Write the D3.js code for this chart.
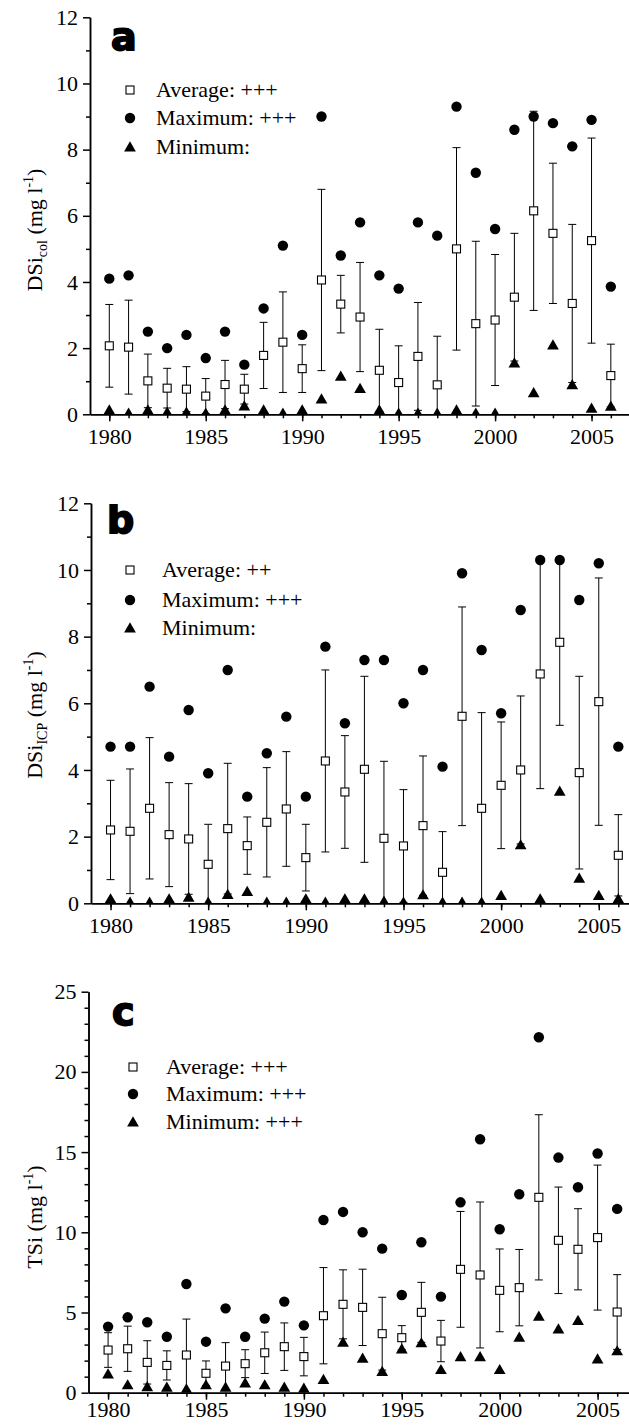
<!DOCTYPE html>
<html>
<head>
<meta charset="utf-8">
<script src="https://cdn.jsdelivr.net/npm/d3@7"></script>
<style>
  body { margin: 0; background: #fff; }
  svg { display: block; }
  text { font-family: "Liberation Serif", "Times New Roman", serif; fill: #000; }
</style>
</head>
<body>
<script>
// years of the series
const years = [1980, 1981, 1982, 1983, 1984, 1985, 1986, 1987, 1988, 1989, 1990, 1991, 1992, 1993,
               1994, 1995, 1996, 1997, 1998, 1999, 2000, 2001, 2002, 2003, 2004, 2005, 2006];
const yearTicks = [1980, 1985, 1990, 1995, 2000, 2005];

// a: DSi col
const avgA = [2.07, 2.03, 1.01, 0.79, 0.76, 0.55, 0.90, 0.76, 1.78, 2.18, 1.38, 4.06, 3.33, 2.94, 1.33, 0.96, 1.75, 0.89, 5.00, 2.74, 2.85, 3.54, 6.15, 5.47, 3.35, 5.25, 1.17];
const sdA  = [1.25, 1.42, 0.81, 0.60, 0.68, 0.53, 0.73, 0.45, 1.00, 1.52, 0.72, 2.74, 0.87, 1.65, 1.24, 1.11, 1.63, 1.47, 3.06, 2.49, 1.98, 1.93, 3.01, 2.12, 2.39, 3.10, 0.95];
const maxA = [4.1, 4.2, 2.5, 2.0, 2.4, 1.7, 2.5, 1.5, 3.2, 5.1, 2.4, 9.0, 4.8, 5.8, 4.2, 3.8, 5.8, 5.4, 9.3, 7.3, 5.6, 8.6, 9.0, 8.8, 8.1, 8.9, 3.86];
const minA = [0.1, 0, 0.1, 0.03, 0.03, 0, 0.1, 0.22, 0.1, 0, 0.1, 0.43, 1.12, 0.75, 0.1, 0, 0, 0, 0.1, 0, 0, 1.52, 0.62, 2.06, 0.86, 0.15, 0.21];

// b: DSi ICP
const avgB = [2.20, 2.16, 2.85, 2.06, 1.93, 1.17, 2.24, 1.73, 2.43, 2.83, 1.37, 4.27, 3.34, 4.02, 1.95, 1.72, 2.33, 0.93, 5.61, 2.85, 3.54, 4.00, 6.88, 7.83, 3.92, 6.05, 1.44];
const sdB  = [1.49, 1.87, 2.12, 1.56, 1.66, 1.20, 1.96, 0.86, 1.64, 1.72, 1.00, 2.73, 1.69, 2.79, 2.31, 1.69, 2.09, 1.22, 3.28, 2.87, 1.90, 2.22, 3.44, 2.49, 2.89, 3.71, 1.22];
const maxB = [4.7, 4.7, 6.5, 4.4, 5.8, 3.9, 7.0, 3.2, 4.5, 5.6, 3.2, 7.7, 5.4, 7.3, 7.3, 6.0, 7.0, 4.1, 9.9, 7.6, 5.7, 8.8, 10.3, 10.3, 9.1, 10.2, 4.7];
const minB = [0.1, 0, 0, 0.1, 0.15, 0, 0.23, 0.32, 0, 0, 0.1, 0, 0.1, 0.1, 0.03, 0, 0.22, 0, 0, 0, 0.2, 1.72, 0.1, 3.33, 0.72, 0.2, 0.1];

// c: TSi
const avgC = [2.66, 2.74, 1.89, 1.70, 2.35, 1.21, 1.66, 1.81, 2.49, 2.87, 2.25, 4.80, 5.51, 5.32, 3.68, 3.43, 5.01, 3.22, 7.69, 7.34, 6.38, 6.55, 12.18, 9.50, 8.94, 9.67, 5.03];
const sdC  = [1.08, 1.41, 1.35, 0.91, 2.24, 0.77, 1.46, 0.87, 1.29, 1.48, 1.20, 3.00, 2.15, 2.38, 2.27, 0.75, 1.87, 1.29, 3.61, 4.55, 2.58, 2.38, 5.15, 3.32, 2.53, 4.52, 2.33];
const maxC = [4.12, 4.70, 4.39, 3.49, 6.78, 3.18, 5.26, 3.49, 4.62, 5.68, 4.20, 10.77, 11.27, 10.0, 8.98, 6.09, 9.38, 5.99, 11.87, 15.80, 10.19, 12.37, 22.16, 14.66, 12.81, 14.91, 11.46];
const minC = [1.10, 0.42, 0.31, 0.27, 0.17, 0.42, 0.27, 0.54, 0.42, 0.27, 0.21, 0.75, 3.08, 2.08, 1.25, 2.66, 3.04, 1.37, 2.18, 2.18, 1.37, 3.39, 4.70, 3.91, 4.43, 2.04, 2.54];

const legendA = ["Average: +++", "Maximum: +++", "Minimum:"];
const legendB = ["Average: ++", "Maximum: +++", "Minimum:"];
const legendC = ["Average: +++", "Maximum: +++", "Minimum: +++"];

const serif = "'Liberation Serif', 'Times New Roman', serif";

const svg = d3.select("body").append("svg")
    .attr("width", 629)
    .attr("height", 1427);

const tri = d3.symbol().type(d3.symbolTriangle).size(60);

function panel({id, x0, k, y0, yTop, yMax, majors, minors, avg, sd, max, min,
                legend, legendX, textX, legendY, letter, letterX, letterY,
                name, sub, labelY, xLabelOff}) {
    const x = d3.scaleLinear().domain([1979, 2007]).range([x0, x0 + 28 * k]);
    const y = d3.scaleLinear().domain([0, yMax]).range([y0, yTop]);
    const g = svg.append("g");

    g.append("clipPath").attr("id", "clip" + id)
        .append("rect")
        .attr("x", x0).attr("y", 0)
        .attr("width", 629).attr("height", y0);

    const rows = years.map((yr, i) => ({yr, avg: avg[i], sd: sd[i], max: max[i], min: min[i]}));
    const plot = g.append("g").attr("clip-path", `url(#clip${id})`);

    // error bars (avg +/- sd)
    const eb = plot.append("g").attr("stroke", "#000").attr("stroke-width", 1)
        .selectAll("g").data(rows).join("g");
    eb.append("line")
        .attr("x1", d => x(d.yr)).attr("x2", d => x(d.yr))
        .attr("y1", d => y(d.avg - d.sd)).attr("y2", d => y(d.avg + d.sd));
    eb.append("line")
        .attr("x1", d => x(d.yr) - 4).attr("x2", d => x(d.yr) + 4)
        .attr("y1", d => y(d.avg + d.sd)).attr("y2", d => y(d.avg + d.sd));
    eb.append("line")
        .attr("x1", d => x(d.yr) - 4).attr("x2", d => x(d.yr) + 4)
        .attr("y1", d => y(d.avg - d.sd)).attr("y2", d => y(d.avg - d.sd));

    plot.append("g").selectAll("path").data(rows).join("path")
        .attr("d", tri)
        .attr("transform", d => `translate(${x(d.yr)},${y(d.min)})`)
        .attr("fill", "#000");

    plot.append("g").selectAll("circle").data(rows).join("circle")
        .attr("cx", d => x(d.yr)).attr("cy", d => y(d.max))
        .attr("r", 5.2).attr("fill", "#000");

    plot.append("g").selectAll("rect").data(rows).join("rect")
        .attr("x", d => x(d.yr) - 4).attr("y", d => y(d.avg) - 4)
        .attr("width", 8).attr("height", 8)
        .attr("fill", "#fff").attr("stroke", "#000").attr("stroke-width", 1.1);

    // axes
    const xAxis = g.append("g").attr("transform", `translate(0,${y0})`);
    xAxis.append("g")
        .call(d3.axisBottom(x).tickValues(years).tickSize(4).tickSizeOuter(0).tickFormat(""));
    xAxis.append("g")
        .call(d3.axisBottom(x).tickValues(yearTicks).tickSize(7).tickSizeOuter(0).tickFormat(d3.format("d")))
        .call(a => a.selectAll("text").attr("y", xLabelOff).attr("dy", null));

    const yAxis = g.append("g").attr("transform", `translate(${x0},0)`);
    yAxis.append("g")
        .call(d3.axisLeft(y).tickValues(minors).tickSize(4).tickSizeOuter(0).tickFormat(""));
    yAxis.append("g")
        .call(d3.axisLeft(y).tickValues(majors).tickSize(7).tickSizeOuter(0).tickPadding(5));

    g.selectAll(".domain, .tick line").attr("stroke", "#000").attr("stroke-width", 1.5);
    g.selectAll(".tick text")
        .style("font-family", serif)
        .attr("font-size", 22).attr("fill", "#000");

    // legend
    const lg = g.append("g");
    lg.append("rect").attr("x", legendX - 4).attr("y", legendY[0] - 4)
        .attr("width", 8).attr("height", 8)
        .attr("fill", "#fff").attr("stroke", "#000").attr("stroke-width", 1.1);
    lg.append("circle").attr("cx", legendX).attr("cy", legendY[1]).attr("r", 5.2);
    lg.append("path").attr("d", tri).attr("transform", `translate(${legendX},${legendY[2] + 1})`);
    lg.selectAll("text").data(legend).join("text")
        .attr("x", textX).attr("y", (d, i) => legendY[i] + 7)
        .style("font-family", serif)
        .attr("font-size", 22)
        .text(d => d);

    // panel letter
    g.append("text")
        .attr("x", letterX).attr("y", letterY)
        .style("font-family", "'DejaVu Sans', Arial, sans-serif")
        .attr("font-weight", "bold").attr("font-size", 38)
        .attr("stroke", "#000").attr("stroke-width", 1.8)
        .text(letter);

    // y title
    const t = g.append("text")
        .attr("transform", `translate(42,${labelY}) rotate(-90)`)
        .attr("text-anchor", "middle")
        .style("font-family", serif)
        .attr("font-size", 22);
    t.append("tspan").text(name);
    if (sub) t.append("tspan").attr("font-size", 14).attr("dy", 5).text(sub);
    t.append("tspan").attr("dy", sub ? -5 : 0).text("\u00a0(mg l");
    t.append("tspan").attr("font-size", 14).attr("dy", -9).text("-1");
    t.append("tspan").attr("dy", 9).text(")");
}

panel({id: "a", x0: 90, k: 19.29, y0: 414.3, yTop: 17.3, yMax: 12,
       majors: [0, 2, 4, 6, 8, 10, 12], minors: [1, 3, 5, 7, 9, 11],
       avg: avgA, sd: sdA, max: maxA, min: minA,
       legend: legendA, legendX: 130, textX: 156, legendY: [90, 118, 147],
       letter: "a", letterX: 111, letterY: 50,
       name: "DSi", sub: "col", labelY: 230, xLabelOff: 30});

panel({id: "b", x0: 91, k: 19.53, y0: 903.3, yTop: 503.3, yMax: 12,
       majors: [0, 2, 4, 6, 8, 10, 12], minors: [1, 3, 5, 7, 9, 11],
       avg: avgB, sd: sdB, max: maxB, min: minB,
       legend: legendB, legendX: 130, textX: 162, legendY: [570, 600, 628],
       letter: "b", letterX: 107, letterY: 533,
       name: "DSi", sub: "ICP", labelY: 715, xLabelOff: 30});

panel({id: "c", x0: 88.5, k: 19.58, y0: 1392.7, yTop: 991.7, yMax: 25,
       majors: [0, 5, 10, 15, 20, 25],
       minors: [1, 2, 3, 4, 6, 7, 8, 9, 11, 12, 13, 14, 16, 17, 18, 19, 21, 22, 23, 24],
       avg: avgC, sd: sdC, max: maxC, min: minC,
       legend: legendC, legendX: 133, textX: 166, legendY: [1067, 1094, 1122],
       letter: "c", letterX: 112, letterY: 1025,
       name: "TSi", sub: null, labelY: 1217, xLabelOff: 24});
</script>
</body>
</html>
